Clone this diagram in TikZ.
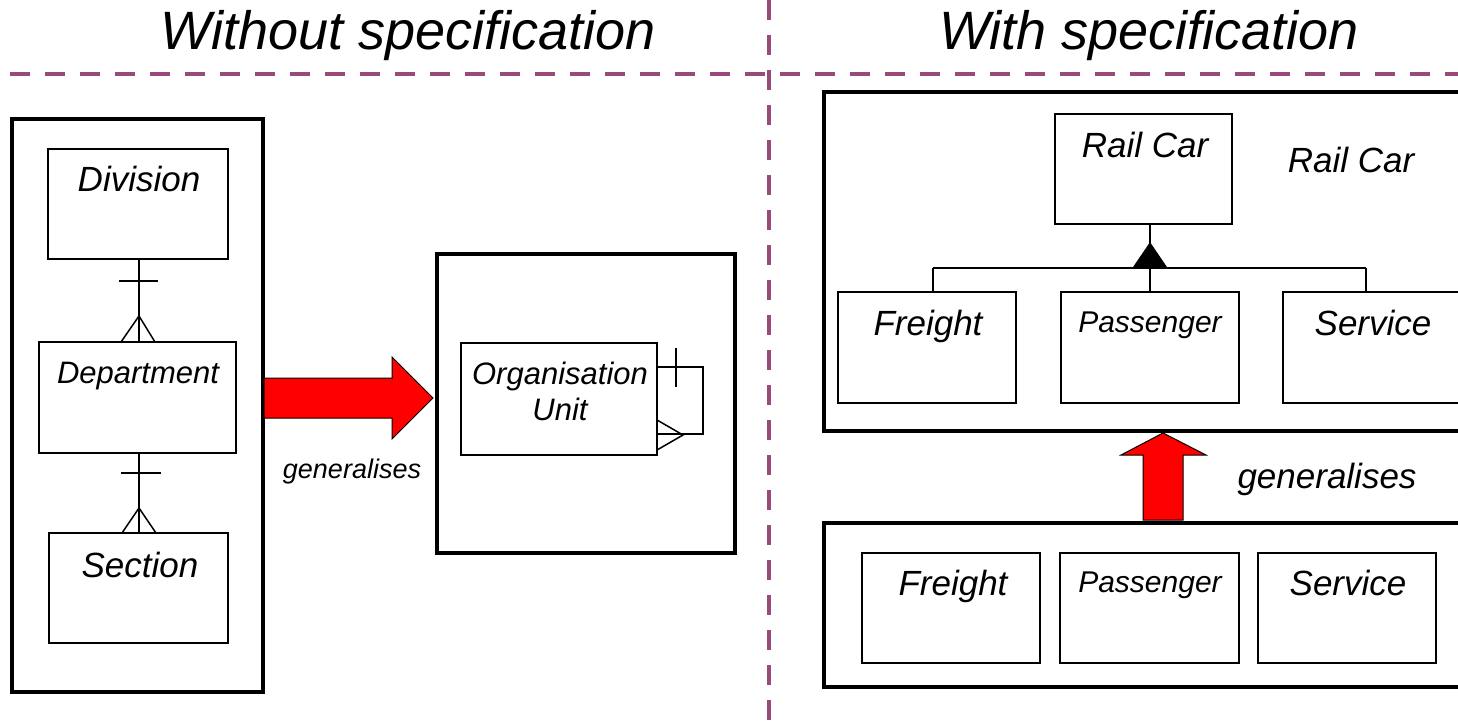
\documentclass[tikz,border=0pt]{standalone}
\usepackage{fontspec}
\setmainfont{Liberation Sans}
\usetikzlibrary{calc}
\definecolor{divider}{HTML}{9A4A78}
\begin{document}
\begin{tikzpicture}[x=1pt,y=-1pt,
  container/.style={draw=black,line width=4pt,fill=none,inner sep=0pt,outer sep=0pt,anchor=north west},
  entity/.style={draw=black,line width=1.5pt,inner sep=0pt,outer sep=0pt,anchor=north west},
  conn/.style={draw=black,line width=1.5pt},
  lbl/.style={font=\itshape\fontsize{35}{40}\selectfont,anchor=base,inner sep=0pt},
  lblsmall/.style={font=\itshape\fontsize{31}{36}\selectfont,anchor=base,inner sep=0pt},
  title/.style={font=\itshape\fontsize{54}{60}\selectfont,anchor=base,inner sep=0pt},
  divline/.style={draw=divider,line width=4.5pt,dash pattern=on 20pt off 15pt},
  bigarrow/.style={fill=red,draw=black,line width=1pt,line join=miter}
]
\useasboundingbox (0,0) rectangle (1458,722);
\clip (0,0) rectangle (1458,722);

% dividers
\coordinate (vtop) at (769,0);
\coordinate (vbot) at (769,722);
\coordinate (hl) at (10,74);
\coordinate (hr) at (1470,74);
\draw[divline] (vtop) -- (vbot);
\draw[divline] (hl) -- (hr);

% titles
\node[title] (t1) at (408,50) {Without specification};
\node[title] (t2) at (1149,50) {With specification};

% ---------------- left part
\node[container,minimum width=251,minimum height=573] (lc) at (12,119) {};
\node[entity,minimum width=180,minimum height=110] (div) at (48,149) {};
\node[entity,minimum width=197,minimum height=111] (dep) at (39,342) {};
\node[entity,minimum width=179,minimum height=110] (sec) at (49,533) {};
\node[lbl] (divt) at (139,192) {Division};
\node[lblsmall] (dept) at (138,383) {Department};
\node[lbl] (sect) at (140,577) {Section};

% Division - Department
\coordinate (c1a) at (139,259);
\coordinate (c1b) at (139,342);
\draw[conn] (c1a) -- (c1b);
\coordinate (b1l) at (119,281); \coordinate (b1r) at (158,281);
\draw[conn] (b1l) -- (b1r);
\coordinate (a1) at (139,316); \coordinate (f1l) at (121,342); \coordinate (f1r) at (155,342);
\draw[conn] (f1l) -- (a1) -- (f1r);

% Department - Section
\coordinate (c2a) at (139,453);
\coordinate (c2b) at (139,533);
\draw[conn] (c2a) -- (c2b);
\coordinate (b2l) at (121,473); \coordinate (b2r) at (161,473);
\draw[conn] (b2l) -- (b2r);
\coordinate (a2) at (139,508); \coordinate (f2l) at (122,533); \coordinate (f2r) at (156,533);
\draw[conn] (f2l) -- (a2) -- (f2r);

% red arrow right
\coordinate (ra1) at (264,378);
\coordinate (ra2) at (392,378);
\coordinate (ra3) at (392,357);
\coordinate (ra4) at (433,398);
\coordinate (ra5) at (392,439);
\coordinate (ra6) at (392,418);
\coordinate (ra7) at (264,418);
\filldraw[bigarrow] (ra1) -- (ra2) -- (ra3) -- (ra4) -- (ra5) -- (ra6) -- (ra7) -- cycle;
\node[font=\itshape\fontsize{27}{30}\selectfont,anchor=base,inner sep=0pt] (gen1) at (352,478) {generalises};

% Organisation Unit
\node[container,minimum width=298,minimum height=299] (oc) at (437,254) {};
\node[entity,minimum width=196,minimum height=112] (ou) at (461,343) {};
\node[lblsmall] (out1) at (560,384) {Organisation};
\node[lblsmall] (out2) at (560,420) {Unit};
\coordinate (l1) at (657,367);
\coordinate (l2) at (703,367);
\coordinate (l3) at (703,434);
\coordinate (l4) at (657,434);
\draw[conn] (l1) -- (l2) -- (l3) -- (l4);
\coordinate (lb1) at (676,348); \coordinate (lb2) at (676,387);
\draw[conn] (lb1) -- (lb2);
\coordinate (la) at (683,435); \coordinate (lf1) at (657,420); \coordinate (lf2) at (657,450);
\draw[conn] (lf1) -- (la) -- (lf2);

% ---------------- right part
\node[container,minimum width=660,minimum height=339] (rtop) at (824,92) {};
\node[entity,minimum width=177,minimum height=110] (rc) at (1055,114) {};
\node[lbl] (rct) at (1145,158) {Rail Car};
\node[lbl] (rcl) at (1351,173) {Rail Car};

\node[entity,minimum width=178,minimum height=111] (fr) at (838,292) {};
\node[entity,minimum width=178,minimum height=111] (pa) at (1061,292) {};
\node[entity,minimum width=180,minimum height=111] (se) at (1283,292) {};
\node[lbl] (frt) at (928,335) {Freight};
\node[font=\itshape\fontsize{30}{34}\selectfont,anchor=base,inner sep=0pt] (pat) at (1150,332) {Passenger};
\node[lbl] (set) at (1373,335) {Service};

% generalisation tree
\coordinate (tapex) at (1150,243);
\coordinate (tbl) at (1133,268);
\coordinate (tbr) at (1167,268);
\draw[conn] (rc.south -| tapex) -- (tapex);
\filldraw[black,line width=1pt] (tapex) -- (tbl) -- (tbr) -- cycle;
\coordinate (hL) at (933,268);
\coordinate (hR) at (1366,268);
\draw[conn] (hL) -- (hR);
\draw[conn] (hL) -- (hL |- fr.north);
\draw[conn] (tbl -| tapex) -- (tapex |- pa.north);
\draw[conn] (hR) -- (hR |- se.north);

% red arrow up
\coordinate (ua1) at (1143,520);
\coordinate (ua2) at (1143,455);
\coordinate (ua3) at (1121,455);
\coordinate (ua4) at (1163,433);
\coordinate (ua5) at (1206,455);
\coordinate (ua6) at (1183,455);
\coordinate (ua7) at (1183,520);
\filldraw[bigarrow] (ua1) -- (ua2) -- (ua3) -- (ua4) -- (ua5) -- (ua6) -- (ua7) -- cycle;
\node[lbl] (gen2) at (1327,488) {generalises};

% bottom right container
\node[container,minimum width=660,minimum height=164] (rbot) at (824,523) {};
\node[entity,minimum width=178,minimum height=110] (fr2) at (862,553) {};
\node[entity,minimum width=179,minimum height=110] (pa2) at (1060,553) {};
\node[entity,minimum width=178,minimum height=110] (se2) at (1258,553) {};
\node[lbl] (fr2t) at (953,595) {Freight};
\node[font=\itshape\fontsize{30}{34}\selectfont,anchor=base,inner sep=0pt] (pa2t) at (1150,592) {Passenger};
\node[lbl] (se2t) at (1348,595) {Service};
\end{tikzpicture}
\end{document}
